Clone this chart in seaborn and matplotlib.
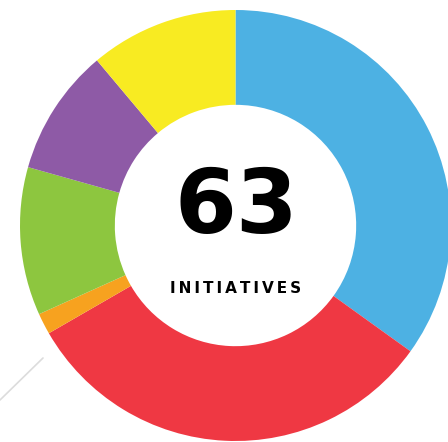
import matplotlib
matplotlib.use("Agg")
import matplotlib.pyplot as plt
import seaborn as sns
from matplotlib.lines import Line2D

# Data
categories = ["Blue", "Red", "Orange", "Green", "Purple", "Yellow"]
counts = [22, 20, 1, 7, 6, 7]
colors = ["#4DB1E3", "#EF3843", "#F7A21F", "#8DC63F", "#8E5AA6", "#F8EB22"]
total_label = str(sum(counts))
sub_label = "INITIATIVES"

sns.set_theme(style="white")
plt.rcParams['font.family'] = ['DejaVu Sans']

fig = plt.figure(figsize=(4.48, 4.42), dpi=100)
ax = fig.add_axes([0, 0, 1, 1])
ax.set_facecolor("white")

ax.pie(counts, colors=colors, startangle=90, counterclock=False, radius=1.0,
       wedgeprops=dict(width=0.44, edgecolor="none", linewidth=0))

ax.set_aspect("auto")
ax.set_xlim(-235.5 / 215.5, (448 - 235.5) / 215.5)
ax.set_ylim(-(442 - 225.5) / 215.5, 225.5 / 215.5)
ax.axis("off")

ax.text(0.005, -0.035, total_label, ha="center", va="baseline", fontsize=64,
        fontweight="bold", color="black")
ax.text(-0.002, -0.313, "\u2009".join(sub_label), ha="center", va="baseline",
        fontsize=11, fontweight="bold", color="black")

fig.add_artist(Line2D([0, 43 / 448], [1 - 400 / 442, 1 - 358 / 442],
                      transform=fig.transFigure, color="#dcdcdc", lw=1.2))

fig.savefig("out.png", dpi=100, facecolor="white")
